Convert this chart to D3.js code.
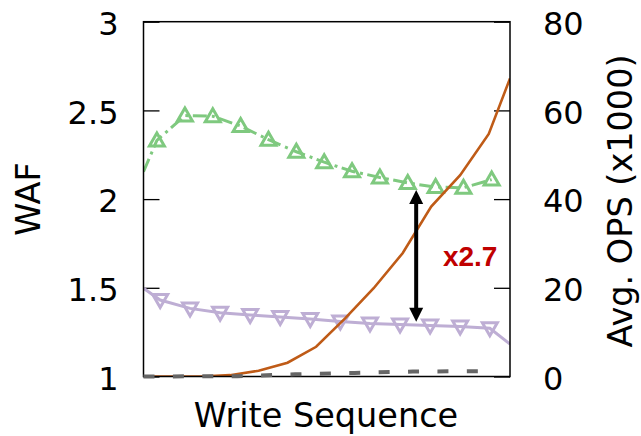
<!DOCTYPE html>
<html>
<head>
<meta charset="utf-8">
<script src="https://cdn.jsdelivr.net/npm/d3@7"></script>
<style>
  body { margin: 0; background: #fff; }
  svg { display: block; }
  text { font-family: "DejaVu Sans", sans-serif; }
</style>
</head>
<body>
<div id="chart"></div>
<script>
// write sequence position (0-100) for each series
var seqGreen = [0, 3.65, 11.3, 18.9, 26.5, 34.1, 41.7, 49.3, 56.9, 64.5, 72.1, 79.7, 87.3, 95.0];
var wafGreen = [2.154, 2.331, 2.471, 2.467, 2.412, 2.335, 2.267, 2.208, 2.157, 2.122, 2.091, 2.068, 2.064, 2.110];

var seqPurple = [0, 4.55, 12.7, 20.9, 29.1, 37.3, 45.5, 53.7, 61.8, 70.0, 78.2, 86.4, 94.5, 100];
var wafPurple = [1.497, 1.431, 1.384, 1.360, 1.347, 1.335, 1.324, 1.310, 1.299, 1.293, 1.287, 1.282, 1.272, 1.183];

var seqOps = [0, 7.85, 15.7, 23.6, 31.4, 39.3, 47.1, 55.0, 62.8, 70.7, 78.5, 86.4, 94.2, 100];
var opsValues = [0, 0, 0, 0.3, 1.3, 3.1, 6.7, 13.1, 19.9, 27.8, 38.3, 45.4, 54.7, 67.2];

var seqGray = [0, 25.6, 41.4, 57.6, 73.5, 94];
var wafGray = [1.0, 1.002, 1.012, 1.020, 1.028, 1.030];

var wafTicks = [1, 1.5, 2, 2.5, 3];
var opsTicks = [0, 20, 40, 60, 80];

// arrow annotation: gap between the two WAF curves
var arrowSeq = 74.4;
var arrowFrom = 2.051;
var arrowTo = 1.309;
var arrowLabel = "x2.7";

var width = 641, height = 436;

var svg = d3.select('#chart').append('svg')
    .attr('width', width)
    .attr('height', height);

var x = d3.scaleLinear().domain([0, 100]).range([143.5, 510]);
var yL = d3.scaleLinear().domain([1, 3]).range([376.5, 21.7]);
var yR = d3.scaleLinear().domain([0, 80]).range([376.5, 21.7]);

svg.append('clipPath').attr('id', 'plot-clip')
    .append('rect')
    .attr('x', x(0)).attr('y', yL(3))
    .attr('width', x(100) - x(0)).attr('height', yL(1) - yL(3));

// axes
var leftAxis = svg.append('g')
    .attr('transform', 'translate(' + x(0) + ',0)')
    .call(d3.axisLeft(yL).tickValues(wafTicks).tickFormat(d3.format('~g'))
        .tickSize(-16).tickPadding(25));
var rightAxis = svg.append('g')
    .attr('transform', 'translate(' + x(100) + ',0)')
    .call(d3.axisRight(yR).tickValues(opsTicks).tickFormat(d3.format('~g'))
        .tickSize(-16).tickPadding(33));

[leftAxis, rightAxis].forEach(function (g) {
    g.attr('font-family', null).attr('font-size', null);
    g.select('.domain').remove();
    g.selectAll('line').attr('stroke', '#000').attr('stroke-width', 1.3);
    g.selectAll('text')
        .attr('fill', '#000')
        .style('font-size', '32px')
        .attr('dy', '0.4em');
});

// axis titles
svg.append('text')
    .attr('transform', 'translate(40,199) rotate(-90)')
    .attr('text-anchor', 'middle')
    .style('font-size', '33.5px')
    .text('WAF');

svg.append('text')
    .attr('transform', 'translate(631.5,201) rotate(-90)')
    .attr('text-anchor', 'middle')
    .style('font-size', '33.5px')
    .text('Avg. OPS (x1000)');

svg.append('text')
    .attr('x', 326).attr('y', 426.5)
    .attr('text-anchor', 'middle')
    .style('font-size', '33.5px')
    .text('Write Sequence');

var plot = svg.append('g').attr('clip-path', 'url(#plot-clip)');

function zip(xs, ys) {
    return xs.map(function (s, i) { return { s: s, v: ys[i] }; });
}

var lineL = d3.line().x(d => x(d.s)).y(d => yL(d.v));
var lineR = d3.line().x(d => x(d.s)).y(d => yR(d.v));

var purple = zip(seqPurple, wafPurple);
var green = zip(seqGreen, wafGreen);
var ops = zip(seqOps, opsValues);
var gray = zip(seqGray, wafGray);

function marked(d) { return d.s > 0 && d.s < 100; }

// purple (down triangles)
plot.append('path')
    .attr('d', lineL(purple))
    .attr('fill', 'none')
    .attr('stroke', '#beaed4')
    .attr('stroke-width', 3);

plot.selectAll('.tri-down')
    .data(purple.filter(marked))
    .enter().append('path')
    .attr('class', 'tri-down')
    .attr('transform', d => 'translate(' + x(d.s) + ',' + yL(d.v) + ')')
    .attr('d', 'M-7.5,-5.5L7.5,-5.5L0,7.5Z')
    .attr('fill', 'none')
    .attr('stroke', '#beaed4')
    .attr('stroke-width', 3);

// green (up triangles, dash-dot)
plot.append('path')
    .attr('d', lineL(green))
    .attr('fill', 'none')
    .attr('stroke', '#7fc97f')
    .attr('stroke-width', 3)
    .attr('stroke-dasharray', '14,5,3,4.5');

plot.selectAll('.tri-up')
    .data(green.filter(marked))
    .enter().append('path')
    .attr('class', 'tri-up')
    .attr('transform', d => 'translate(' + x(d.s) + ',' + yL(d.v) + ')')
    .attr('d', 'M-7.5,5.5L7.5,5.5L0,-7.5Z')
    .attr('fill', 'none')
    .attr('stroke', '#7fc97f')
    .attr('stroke-width', 3);

// orange OPS line
plot.append('path')
    .attr('d', lineR(ops))
    .attr('fill', 'none')
    .attr('stroke', '#bf5b17')
    .attr('stroke-width', 2.6);

// frame
svg.append('rect')
    .attr('x', x(0)).attr('y', yL(3))
    .attr('width', x(100) - x(0)).attr('height', yL(1) - yL(3))
    .attr('fill', 'none')
    .attr('stroke', '#000')
    .attr('stroke-width', 1.5);

// gray dashed baseline
svg.append('path')
    .attr('d', lineL(gray))
    .attr('fill', 'none')
    .attr('stroke', '#666666')
    .attr('stroke-width', 4)
    .attr('stroke-dasharray', '11,18.4');

// double-headed arrow
var ax = x(arrowSeq), ay1 = yL(arrowFrom), ay2 = yL(arrowTo);
svg.append('line')
    .attr('x1', ax).attr('x2', ax)
    .attr('y1', ay1 + 12).attr('y2', ay2 - 12)
    .attr('stroke', '#000')
    .attr('stroke-width', 4);
svg.append('path')
    .attr('d', 'M' + ax + ',' + ay1 + 'l-7,14h14Z')
    .attr('fill', '#000');
svg.append('path')
    .attr('d', 'M' + ax + ',' + ay2 + 'l-7,-14h14Z')
    .attr('fill', '#000');

svg.append('text')
    .attr('x', x(81.7)).attr('y', yL(1.623))
    .style('font-family', '"Liberation Sans", Arial, sans-serif')
    .style('font-weight', 'bold')
    .style('font-size', '28px')
    .attr('fill', '#c00000')
    .text(arrowLabel);
</script>
</body>
</html>
